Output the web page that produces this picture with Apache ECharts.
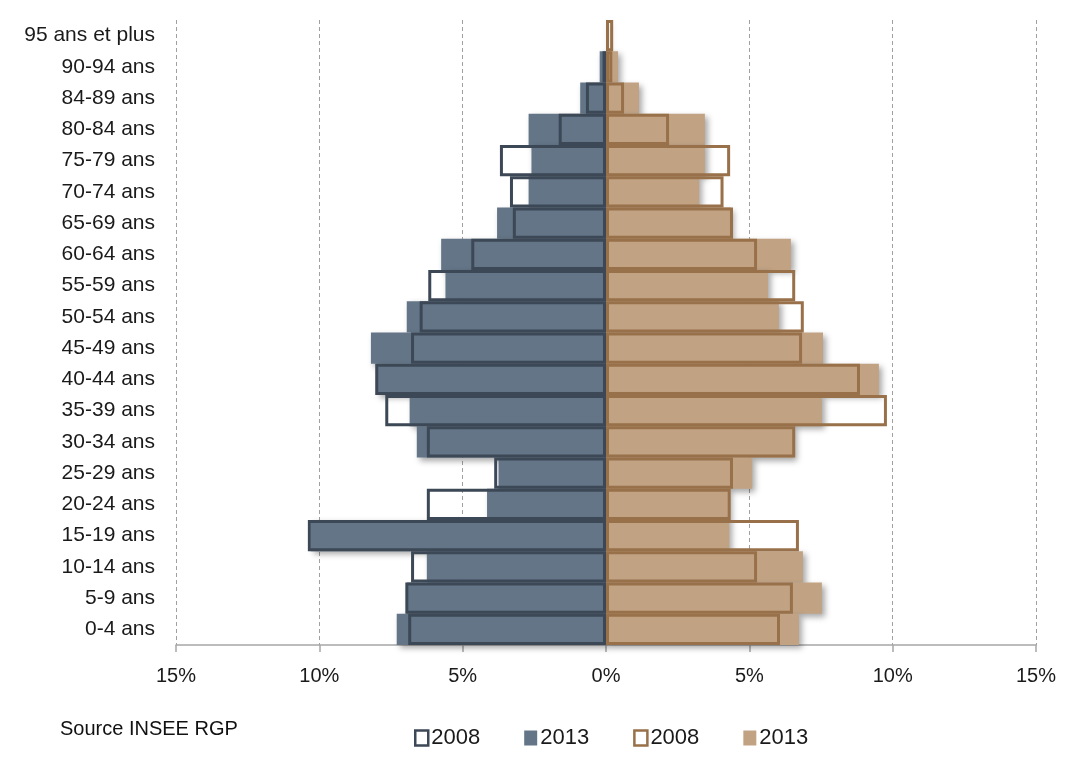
<!DOCTYPE html>
<html>
<head>
<meta charset="utf-8">
<script src="https://cdn.jsdelivr.net/npm/echarts@6/dist/echarts.min.js"></script>
<style>
html,body{margin:0;padding:0;background:#fff;}
#chart{width:1067px;height:760px;}
</style>
</head>
<body>
<div id="chart"></div>
<script>
const categories = ['95 ans et plus','90-94 ans','84-89 ans','80-84 ans','75-79 ans','70-74 ans','65-69 ans','60-64 ans','55-59 ans','50-54 ans','45-49 ans','40-44 ans','35-39 ans','30-34 ans','25-29 ans','20-24 ans','15-19 ans','10-14 ans','5-9 ans','0-4 ans'];
const hommes2008 = [null, -0.12, -0.7, -1.65, -3.7, -3.35, -3.25, -4.7, -6.2, -6.5, -6.8, -8.05, -7.7, -6.25, -3.9, -6.25, -10.4, -6.8, -7.0, -6.9];
const hommes2013 = [null, -0.22, -0.9, -2.7, -2.6, -2.7, -3.8, -5.75, -5.6, -6.95, -8.2, -8.0, -6.85, -6.6, -3.75, -4.15, -10.3, -6.25, -6.95, -7.3];
const femmes2008 = [0.25, 0.22, 0.63, 2.2, 4.33, 4.1, 4.43, 5.27, 6.6, 6.9, 6.84, 8.86, 9.8, 6.6, 4.43, 4.35, 6.73, 5.27, 6.52, 6.07];
const femmes2013 = [0.05, 0.42, 1.15, 3.45, 3.45, 3.25, 4.36, 6.45, 5.65, 6.03, 7.57, 9.52, 7.53, 6.55, 5.1, 4.3, 4.3, 6.87, 7.53, 6.73];
const xTicks = { min: -15, max: 15, step: 5 };
const sourceText = 'Source INSEE RGP';

const FONT = "'Liberation Sans', Arial, sans-serif";
const maleFill = '#637587', maleLine = '#3c4856';
const femFill = '#c1a384', femLine = '#98714a';

const chart = echarts.init(document.getElementById('chart'));
const shadow = { shadowColor: 'rgba(0,0,0,0.35)', shadowBlur: 6, shadowOffsetX: 3, shadowOffsetY: 3 };

chart.setOption({
  animation: false,
  backgroundColor: '#fff',
  textStyle: { fontFamily: FONT },
  grid: { left: 176, right: 31, top: 20, bottom: 115, containLabel: false },
  xAxis: {
    type: 'value', min: xTicks.min, max: xTicks.max, interval: xTicks.step,
    axisLine: { show: true, lineStyle: { color: '#a6a6a6', width: 1.5 } },
    axisTick: { show: true, length: 7, lineStyle: { color: '#a6a6a6', width: 1.5 } },
    axisLabel: { formatter: v => Math.abs(v) + '%', fontSize: 20, color: '#1a1a1a', margin: 21, fontFamily: FONT },
    splitLine: { show: true, lineStyle: { type: [4, 3], color: '#a0a0a0', width: 1 } }
  },
  yAxis: {
    type: 'category', data: categories, inverse: true,
    axisLine: { show: false }, axisTick: { show: false },
    axisLabel: { fontSize: 21, color: '#1a1a1a', margin: 21, fontFamily: FONT },
    splitLine: { show: false }
  },
  legend: {
    left: 409, top: 722, itemWidth: 13, itemHeight: 15, itemGap: 44,
    icon: 'rect',
    textStyle: { fontSize: 22, color: '#1a1a1a', fontFamily: FONT, padding: [0, 0, 0, -2] },
    data: [
      { name: '2008 ', itemStyle: { color: '#fff', borderColor: maleLine, borderWidth: 2.5 } },
      { name: '2013 ', itemStyle: { color: maleFill, borderWidth: 0 } },
      { name: '2008', itemStyle: { color: '#fff', borderColor: femLine, borderWidth: 2.5 } },
      { name: '2013', itemStyle: { color: femFill, borderWidth: 0 } }
    ],
    formatter: n => n.trim()
  },
  graphic: [{
    type: 'text', left: 60, top: 719,
    style: { text: sourceText, fontSize: 20, fill: '#111', fontFamily: FONT }
  }],
  series: [
    { name: '2008 ', type: 'bar', data: hommes2008, barGap: '-100%', barCategoryGap: '0%', z: 4,
      itemStyle: { color: 'rgba(0,0,0,0)', borderColor: maleLine, borderWidth: 3 } },
    { name: '2013 ', type: 'bar', data: hommes2013, barGap: '-100%', barCategoryGap: '0%', z: 2,
      itemStyle: Object.assign({ color: maleFill }, shadow) },
    { name: '2008', type: 'bar', data: femmes2008, barGap: '-100%', barCategoryGap: '0%', z: 4,
      itemStyle: { color: 'rgba(0,0,0,0)', borderColor: femLine, borderWidth: 3 } },
    { name: '2013', type: 'bar', data: femmes2013, barGap: '-100%', barCategoryGap: '0%', z: 3,
      itemStyle: Object.assign({ color: femFill }, shadow) }
  ]
});
</script>
</body>
</html>
